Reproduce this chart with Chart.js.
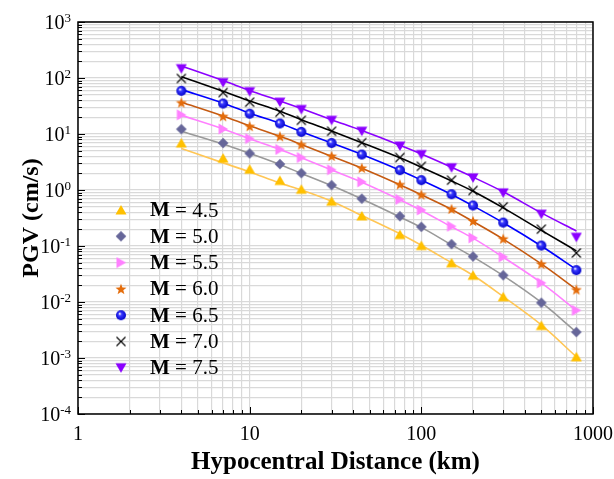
<!DOCTYPE html>
<html>
<head>
<meta charset="utf-8">
<script src="https://cdn.jsdelivr.net/npm/chart.js@4.4.1/dist/chart.umd.min.js"></script>
<style>
	html, body { margin: 0; padding: 0; background: #fff; }
</style>
</head>
<body>
<canvas id="pgv_chart" width="614" height="479"></canvas>
<script>
// hypocentral distances (km) shared by every magnitude
const distances = [4, 7, 10, 15, 20, 30, 45, 75, 100, 150, 200, 300, 500, 800]
const magnitudes = ['4.5', '5.0', '5.5', '6.0', '6.5', '7.0', '7.5']

// observed PGV (cm/s), the symbols
const pgv_m45 = [6.9, 3.7, 2.35, 1.48, 1.03, 0.63, 0.345, 0.16, 0.102, 0.05, 0.03, 0.0124, 0.0038, 0.00105]
const pgv_m50 = [12.2, 6.9, 4.5, 2.9, 2.0, 1.22, 0.7, 0.34, 0.22, 0.108, 0.065, 0.03, 0.0097, 0.0029]
const pgv_m55 = [22, 12.3, 8.3, 5.3, 3.8, 2.3, 1.4, 0.68, 0.44, 0.225, 0.14, 0.064, 0.022, 0.0071]
const pgv_m60 = [36.5, 20.8, 13.8, 9.1, 6.5, 4.06, 2.49, 1.26, 0.83, 0.46, 0.28, 0.135, 0.048, 0.0167]
const pgv_m65 = [59, 35, 23, 15.4, 10.9, 6.9, 4.3, 2.26, 1.5, 0.84, 0.53, 0.262, 0.102, 0.037]
const pgv_m70 = [98, 55, 37, 24.5, 17.6, 11.2, 7.0, 3.8, 2.65, 1.5, 0.98, 0.5, 0.2, 0.075]
const pgv_m75 = [147, 83, 57, 37, 27.4, 17.6, 11.2, 6.1, 4.3, 2.5, 1.65, 0.89, 0.37, 0.143]

// fitted curves, the lines
const fit_m45 = [5.5, 3.05, 2.1, 1.33, 1.0, 0.63, 0.35, 0.165, 0.103, 0.05, 0.03, 0.0125, 0.0039, 0.00105]
const fit_m50 = [11.2, 6.6, 4.5, 2.85, 1.98, 1.2, 0.69, 0.33, 0.215, 0.105, 0.064, 0.0295, 0.0098, 0.0029]
const fit_m55 = [21.5, 12.3, 8.2, 5.3, 3.75, 2.28, 1.38, 0.67, 0.43, 0.22, 0.138, 0.063, 0.022, 0.0071]
const fit_m60 = [37, 21, 14, 9.1, 6.5, 4.0, 2.45, 1.24, 0.82, 0.45, 0.275, 0.133, 0.048, 0.0168]
const fit_m65 = [62, 35.5, 23.5, 15.5, 11, 6.9, 4.3, 2.25, 1.5, 0.83, 0.52, 0.26, 0.1, 0.038]
const fit_m70 = [105, 58, 39, 25.5, 18, 11.3, 7.0, 3.75, 2.55, 1.45, 0.95, 0.48, 0.19, 0.082]
const fit_m75 = [164, 90, 60, 39, 28.5, 18, 11.5, 6.3, 4.4, 2.55, 1.7, 0.93, 0.39, 0.185]

const x_tick_labels = [1, 10, 100, 1000]
const y_tick_exponents = [-4, -3, -2, -1, 0, 1, 2, 3]

const observed = [pgv_m45, pgv_m50, pgv_m55, pgv_m60, pgv_m65, pgv_m70, pgv_m75]
const fitted = [fit_m45, fit_m50, fit_m55, fit_m60, fit_m65, fit_m70, fit_m75]
const marker_kinds = ['up', 'diamond', 'right', 'star', 'sphere', 'cross', 'down']
const marker_colors = ['#FFC000', '#666699', '#FF80FF', '#E46C0A', '#0000FF', '#000000', '#8B00FF']
const line_colors = ['#FFC655', '#999999', '#FF80FF', '#C55A11', '#0000FF', '#000000', '#8B00FF']

const serif = '"Liberation Serif", "Times New Roman", serif'

// small canvases used as point styles (Chart.js has no filled star or shaded ball)
function make_marker(kind, color) {
	const s = 12
	const c = document.createElement('canvas')
	c.width = s
	c.height = s
	const g = c.getContext('2d')
	g.fillStyle = color
	g.strokeStyle = color
	g.beginPath()
	if (kind === 'up') {
		g.moveTo(6, 1); g.lineTo(11.5, 10.5); g.lineTo(0.5, 10.5)
	} else if (kind === 'down') {
		g.moveTo(0.5, 1.5); g.lineTo(11.5, 1.5); g.lineTo(6, 11)
	} else if (kind === 'right') {
		g.moveTo(1.5, 0.5); g.lineTo(11, 6); g.lineTo(1.5, 11.5)
	} else if (kind === 'diamond') {
		g.moveTo(6, 0.7); g.lineTo(11.3, 6); g.lineTo(6, 11.3); g.lineTo(0.7, 6)
	} else if (kind === 'star') {
		for (let i = 0; i < 10; i++) {
			const r = i % 2 === 0 ? 5.8 : 2.4
			const a = -Math.PI / 2 + i * Math.PI / 5
			const px = 6 + r * Math.cos(a)
			const py = 6.5 + r * Math.sin(a)
			if (i === 0) g.moveTo(px, py)
			else g.lineTo(px, py)
		}
	} else if (kind === 'sphere') {
		const grad = g.createRadialGradient(4.6, 4.4, 0.3, 6, 6, 5.2)
		grad.addColorStop(0, '#ffffff')
		grad.addColorStop(0.3, '#3a3aff')
		grad.addColorStop(1, '#0000c8')
		g.fillStyle = grad
		g.arc(6, 6, 5, 0, Math.PI * 2)
	} else if (kind === 'cross') {
		g.lineWidth = 1.1
		g.moveTo(1.5, 1.5); g.lineTo(10.5, 10.5)
		g.moveTo(10.5, 1.5); g.lineTo(1.5, 10.5)
		g.stroke()
		return c
	}
	g.closePath()
	g.fill()
	return c
}

const marker_images = marker_kinds.map((k, i) => make_marker(k, marker_colors[i]))

const datasets = []
magnitudes.forEach((m, i) => {
	datasets.push({
		label: 'M = ' + m,
		data: distances.map((d, j) => ({ x: d, y: observed[i][j] })),
		showLine: false,
		pointStyle: marker_images[i],
		pointRadius: 6,
		order: 0,
	})
	datasets.push({
		label: 'fit M = ' + m,
		data: distances.map((d, j) => ({ x: d, y: fitted[i][j] })),
		showLine: true,
		borderColor: line_colors[i],
		borderWidth: 1.6,
		pointRadius: 0,
		cubicInterpolationMode: 'monotone',
		order: 1,
	})
})

function log_ticks(lo, hi) {
	const out = []
	for (let e = lo; e < hi; e++) {
		for (let m = 1; m < 10; m++) out.push({ value: Number((m * Math.pow(10, e)).toPrecision(3)) })
	}
	out.push({ value: Math.pow(10, hi) })
	return out
}

// frame, inward tick marks, power-of-ten labels and the legend
const frame_plugin = {
	id: 'frame',
	afterDraw(chart) {
		const { ctx, chartArea: a, scales } = chart
		ctx.save()
		ctx.strokeStyle = '#000'
		ctx.lineWidth = 1
		scales.x.ticks.forEach(t => {
			const px = Math.round(scales.x.getPixelForValue(t.value)) + 0.5
			const len = x_tick_labels.includes(t.value) ? 7 : 4
			ctx.beginPath()
			ctx.moveTo(px, a.bottom)
			ctx.lineTo(px, a.bottom - len)
			ctx.stroke()
		})
		scales.y.ticks.forEach(t => {
			const py = Math.round(scales.y.getPixelForValue(t.value)) + 0.5
			const e = Math.log10(t.value)
			const len = Math.abs(e - Math.round(e)) < 1e-6 ? 7 : 4
			ctx.beginPath()
			ctx.moveTo(a.left, py)
			ctx.lineTo(a.left + len, py)
			ctx.stroke()
		})
		ctx.lineWidth = 1.5
		ctx.strokeRect(a.left, a.top, a.right - a.left, a.bottom - a.top)

		// y labels as 10 with a raised exponent
		ctx.fillStyle = '#000'
		ctx.textBaseline = 'alphabetic'
		ctx.textAlign = 'left'
		y_tick_exponents.forEach(e => {
			const py = scales.y.getPixelForValue(Math.pow(10, e))
			ctx.font = '13px ' + serif
			const ew = ctx.measureText(String(e)).width
			ctx.font = '20px ' + serif
			const bw = ctx.measureText('10').width
			const right = a.left - 7
			ctx.fillText('10', right - ew - bw, py + 7)
			ctx.font = '13px ' + serif
			ctx.fillText(String(e), right - ew, py - 0.5)
		})

		// legend
		ctx.textBaseline = 'middle'
		magnitudes.forEach((m, i) => {
			const y = 210 + i * 26.3
			const img = marker_images[i]
			ctx.drawImage(img, 121 - img.width / 2, y - img.height / 2)
			ctx.font = 'bold 21px ' + serif
			ctx.fillText('M', 150, y + 1)
			const w = ctx.measureText('M').width
			ctx.font = '21px ' + serif
			ctx.fillText(' = ' + m, 150 + w, y + 1)
		})
		ctx.restore()
	},
}

// eslint-disable-next-line
const pgv_chart = new Chart(document.getElementById('pgv_chart'), {
	type: 'scatter',
	data: { datasets },
	options: {
		responsive: false,
		animation: false,
		layout: { padding: { top: 22, right: 21, left: 0, bottom: 0 } },
		plugins: { legend: { display: false }, tooltip: { enabled: false } },
		scales: {
			x: {
				type: 'logarithmic',
				min: 1,
				max: 1000,
				afterBuildTicks: scale => { scale.ticks = log_ticks(0, 3) },
				afterFit: scale => {
					scale.height = 65
					scale.paddingLeft = 0
					scale.paddingRight = 0
				},
				grid: { color: '#d9d9d9', lineWidth: 1.2, drawTicks: false },
				border: { display: false },
				ticks: {
					autoSkip: false,
					maxRotation: 0,
					padding: 9,
					color: '#000',
					font: { family: serif, size: 20 },
					callback: v => (x_tick_labels.includes(v) ? String(v) : ''),
				},
				title: {
					display: true,
					text: 'Hypocentral Distance (km)',
					color: '#000',
					font: { family: serif, size: 25, weight: 'bold' },
					padding: { top: 0, bottom: 1 },
				},
			},
			y: {
				type: 'logarithmic',
				min: 1e-4,
				max: 1000,
				afterBuildTicks: scale => { scale.ticks = log_ticks(-4, 3) },
				afterFit: scale => {
					scale.width = 78
					scale.paddingTop = 0
					scale.paddingBottom = 0
				},
				grid: { color: '#d9d9d9', lineWidth: 1.2, drawTicks: false },
				border: { display: false },
				ticks: {
					autoSkip: false,
					padding: 6,
					callback: () => '',
				},
				title: {
					display: true,
					text: 'PGV (cm/s)',
					color: '#000',
					font: { family: serif, size: 24, weight: 'bold' },
					padding: { top: 17, bottom: 0 },
				},
			},
		},
	},
	plugins: [frame_plugin],
})
</script>
</body>
</html>
